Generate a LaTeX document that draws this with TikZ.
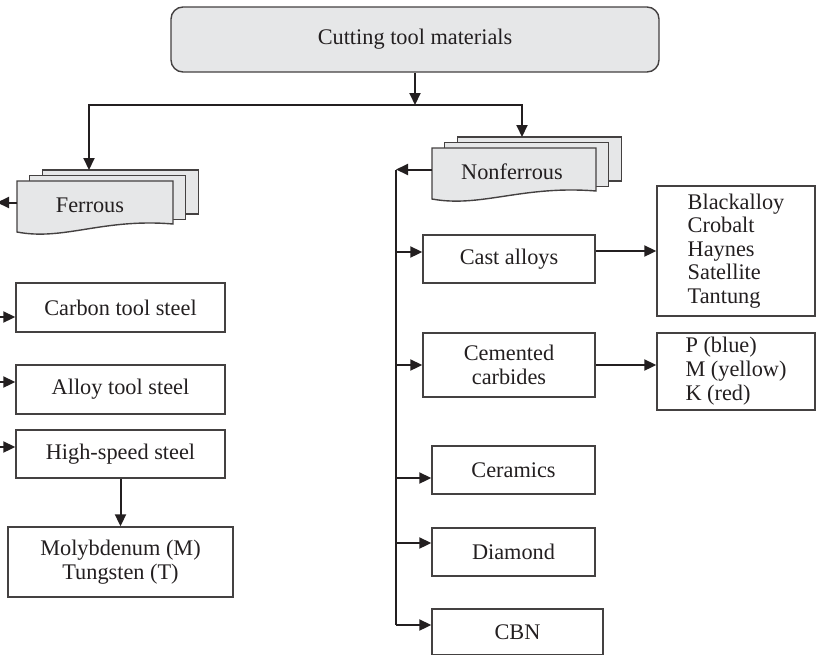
\documentclass[tikz,border=0pt]{standalone}
\usepackage{fontspec}
\setmainfont{Liberation Serif}
\usetikzlibrary{arrows.meta}
\definecolor{sheetgray}{RGB}{230,231,232}
\definecolor{ink}{RGB}{35,31,32}
\tikzset{
  box/.style={draw=ink!85, line width=1.4pt, fill=white, inner sep=0pt, align=center, text=ink},
  sheet/.style={draw=ink!85, line width=1.4pt, fill=sheetgray},
  line/.style={draw=ink, line width=2pt},
  conn/.style={line, -{Triangle[length=12pt,width=11pt]}},
  every node/.style={font=\fontsize{22.3}{24}\selectfont}
}
\newcommand{\docstack}[6]{%
  \foreach \k in {2,1}
    \draw[sheet] ({#2+12.75*\k},{#3-5.5*\k}) rectangle ++(#4,44);
  \draw[sheet] (#2,#3) -- ({#2+#4},#3) -- ({#2+#4},{#3+43})
    .. controls ({#2+0.55*#4},{#3+37}) and ({#2+0.3*#4},{#3+60}) .. (#2,{#3+51}) -- cycle;
  \coordinate (#1-w) at (#2,{#3+21.5});
  \node[text=ink] (#1) at ({#2+#4/2+#5},{#3+24}) {#6};
}
\begin{document}
\begin{tikzpicture}[x=1pt,y=-1pt]
\useasboundingbox (0,0) rectangle (816,654);
\clip (0,0) rectangle (816,654);

\node[box, fill=sheetgray, rounded corners=12pt, minimum width=488pt, minimum height=65pt] (top) at (415,39.5) {Cutting tool materials};

\docstack{ferrous}{17}{181}{156}{-5}{Ferrous}
\docstack{nonferrous}{432}{148}{164}{-2}{Nonferrous}

\node[box, minimum width=209pt, minimum height=49pt] (carbon) at (120.5,307.5) {Carbon tool steel};
\node[box, minimum width=209pt, minimum height=49pt] (alloy) at (120.5,389.5) {Alloy tool steel};
\node[box, minimum width=209pt, minimum height=48pt] (hss) at (120.5,454) {High-speed steel};
\node[box, minimum width=225pt, minimum height=70pt] (moly) at (120.5,562) {Molybdenum (M)\\Tungsten (T)};

\node[box, minimum width=172pt, minimum height=48pt] (cast) at (509,259) {Cast alloys};
\node[box, minimum width=172pt, minimum height=64pt] (cemented) at (509,365) {Cemented\\carbides};
\node[box, minimum width=163pt, minimum height=48pt] (ceramics) at (513.5,470) {Ceramics};
\node[box, minimum width=163pt, minimum height=48pt] (diamond) at (513.5,552) {Diamond};
\node[box, minimum width=171pt, minimum height=46pt] (cbn) at (517.5,632) {CBN};

\node[box, minimum width=158pt, minimum height=130pt, align=left, font=\fontsize{22.3}{23.5}\selectfont] (brands) at (736,251) {Blackalloy\\Crobalt\\Haynes\\Satellite\\Tantung};
\node[box, minimum width=158pt, minimum height=77pt, align=left] (grades) at (736,371.5) {P (blue)\\M (yellow)\\K (red)};

\coordinate (split) at (415,105);
\coordinate (fin) at (89,170);
\coordinate (nin) at (522,137);
\coordinate (lbus) at (-3,0);
\coordinate (rbus) at (396,625);

\draw[conn] (top) -- (split);
\draw[conn] (split) -| (fin);
\draw[conn] (split) -| (nin);

\draw[conn] (ferrous-w) -- (ferrous-w -| lbus);
\foreach \n/\y in {carbon/317,alloy/382,hss/447}
  \draw[conn] (lbus |- 0,\y) -- (\n.west |- 0,\y);
\draw[conn] (hss.south) -- (moly.north);

\draw[line] (nonferrous-w -| rbus) -- (rbus);
\draw[conn] (nonferrous-w) -- (nonferrous-w -| rbus);
\foreach \n/\y in {cast/252,cemented/365,ceramics/478,diamond/543,cbn/625}
  \draw[conn] (rbus |- 0,\y) -- (\n.west |- 0,\y);

\draw[conn] (cast.east |- brands.west) -- (brands.west);
\draw[conn] (cemented.east) -- (cemented.east -| grades.west);
\end{tikzpicture}
\end{document}
